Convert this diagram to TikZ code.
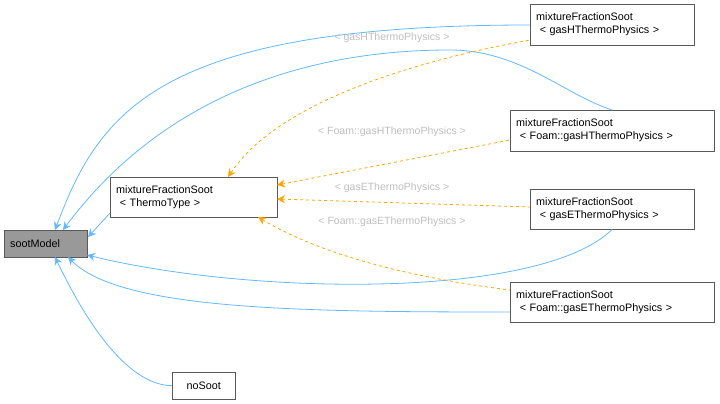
\documentclass[tikz,border=0pt]{standalone}
\usepackage{fontspec}
\setmainfont{Liberation Sans}
\usetikzlibrary{positioning,arrows.meta}
\definecolor{edgeblue}{RGB}{99,184,255}
\definecolor{edgeorange}{RGB}{255,165,0}
\definecolor{labgray}{RGB}{190,190,190}
\tikzset{
  cls/.style  = {rectangle, draw=black!65, fill=white, align = left,
                 inner xsep=6pt, inner ysep=2pt, font = \fontsize{10.8}{13}\selectfont, anchor=north west},
  inh/.style  = {{Stealth[length=8pt,width=8pt]}-, draw=edgeblue, line width=0.8pt},
  tpl/.style  = {{Stealth[length=8pt,width=8pt]}-, draw=edgeorange, dashed, line width=0.8pt},
  lab/.style  = {font=\fontsize{10.5}{12}\selectfont, text=labgray}
}
\begin{document}
\begin{tikzpicture}[x=1pt, y=-1pt]
\useasboundingbox (0,0) rectangle (720,404);

% --- Klassen -----------------------------------------------------
\node[cls, fill=black!40, text width=71pt, minimum height=27pt] (soot) at (4,230) {sootModel};
\node[cls, text width=155pt, minimum height=40pt] (tt)  at (110,177) {mixtureFractionSoot\\\ \textless\ ThermoType \textgreater};
\node[cls, text width=152pt, minimum height=41pt] (gh)  at (530,4)   {mixtureFractionSoot\\\ \textless\ gasHThermoPhysics \textgreater};
\node[cls, text width=192pt, minimum height=41pt] (fgh) at (510,110) {mixtureFractionSoot\\\ \textless\ Foam::gasHThermoPhysics \textgreater};
\node[cls, text width=152pt, minimum height=40pt] (ge)  at (530,189) {mixtureFractionSoot\\\ \textless\ gasEThermoPhysics \textgreater};
\node[cls, text width=192pt, minimum height=40pt] (fge) at (510,282) {mixtureFractionSoot\\\ \textless\ Foam::gasEThermoPhysics \textgreater};
\node[cls, text width=51pt, minimum height=27pt, align=center] (none) at (172,372) {noSoot};

% --- Vererbung ---------------------------------------------------
\coordinate (s0) at (88,237);
\coordinate (s1) at (55,230);
\coordinate (s2) at (63,230);
\coordinate (s3) at (87,255);
\coordinate (s4) at (68,257);
\coordinate (s5) at (55,257);
\draw[inh] (s0) -- (tt.west |- 0,213);
\draw[inh] (s1) .. controls (100,110) and (160,25) .. (gh.west |- 0,25);
\draw[inh] (s2) .. controls (160,100) and (300,50) .. (450,50) .. controls (520,50) and (565,95) .. (fgh.north);
\draw[inh] (s3) .. controls (250,295) and (540,300) .. (ge.south);
\draw[inh] (s4) .. controls (120,310) and (300,312) .. (fge.west |- 0,312);
\draw[inh] (s5) .. controls (90,330) and (130,385) .. (none.west);

% --- Templates ---------------------------------------------------
\coordinate (t1) at (228,177);
\coordinate (t2) at (277,185);
\coordinate (t3) at (277,199);
\coordinate (t4) at (258,217);
\draw[tpl] (t1) .. controls (280,100) and (420,60) .. (gh.west |- 0,40);
\draw[tpl] (t2) -- (fgh.west |- 0,140);
\draw[tpl] (t3) -- (ge.west |- 0,207);
\draw[tpl] (t4) .. controls (330,260) and (430,280) .. (fge.west |- 0,290);

\node[lab] (l1) at (392,38)  {\textless\ gasHThermoPhysics \textgreater};
\node[lab] (l2) at (392,132) {\textless\ Foam::gasHThermoPhysics \textgreater};
\node[lab] (l3) at (392,188) {\textless\ gasEThermoPhysics \textgreater};
\node[lab] (l4) at (392,222) {\textless\ Foam::gasEThermoPhysics \textgreater};
\end{tikzpicture}
\end{document}
